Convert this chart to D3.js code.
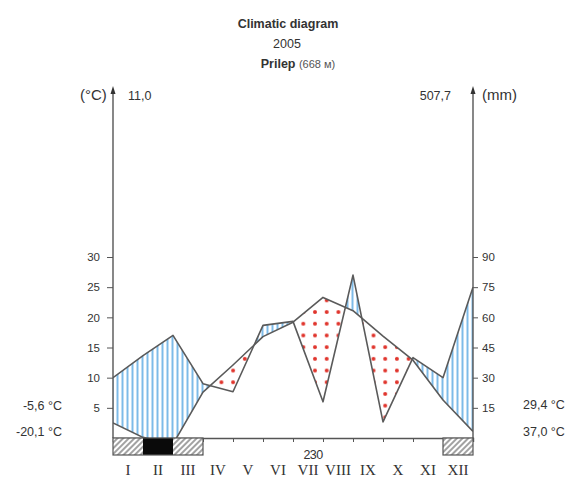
<!DOCTYPE html>
<html>
<head>
<meta charset="utf-8">
<script src="https://cdn.jsdelivr.net/npm/d3@7"></script>
<style>
  body { margin: 0; background: #fff; }
  text { font-family: "Liberation Sans", Arial, sans-serif; fill: #333; }
</style>
</head>
<body>
<div id="chart"></div>
<script>
(function(){
// readings at month boundaries (13 points, start of Jan .. end of Dec)
const tempValues = [2.5, 0.1, -1.0, 7.6, 12.1, 16.8, 19.2, 23.3, 21.1, 16.9, 12.9, 6.3, 1.1];
const precipValues = [30, 41, 51, 27, 23, 56, 58, 18, 81, 8, 40, 30, 75];
const months = ["I", "II", "III", "IV", "V", "VI", "VII", "VIII", "IX", "X", "XI", "XII"];
const tempTicks = [5, 10, 15, 20, 25, 30];
const precipTicks = [15, 30, 45, 60, 75, 90];
// frost bar: 0 none, 1 probable frost (hatched), 2 mean min below 0 (black)
const frostMonths = [1, 2, 1, 0, 0, 0, 0, 0, 0, 0, 0, 1];
const title = "Climatic diagram";
const year = "2005";
const station = "Prilep";
const altitude = "(668 м)";
const meanTemp = "11,0";
const totalPrecip = "507,7";
const leftNotes = ["-5,6 °C", "-20,1 °C"];
const rightNotes = ["29,4 °C", "37,0 °C"];
const frostFreeDays = "230";

const W = 573, H = 477;
const svg = d3.select("#chart").append("svg")
    .attr("width", W)
    .attr("height", H);

const x = d3.scaleLinear().domain([0, 12]).range([113, 473]);
const yT = d3.scaleLinear().domain([0, 30]).range([438, 257]);
const yP = d3.scaleLinear().domain([0, 90]).range([438, 257]);
const x0 = x(0), x1 = x(12), y0 = yT(0);

const pts = tempValues.map((t, i) => ({ i, t, p: precipValues[i] }));

// patterns
const defs = svg.append("defs");
const stripes = defs.append("pattern")
    .attr("id", "stripes")
    .attr("patternUnits", "userSpaceOnUse")
    .attr("width", 5).attr("height", 10);
stripes.append("line")
    .attr("x1", 2.5).attr("x2", 2.5).attr("y1", 0).attr("y2", 10)
    .attr("stroke", "#7dbbe8").attr("stroke-width", 2);

const dots = defs.append("pattern")
    .attr("id", "dots")
    .attr("patternUnits", "userSpaceOnUse")
    .attr("x", 5).attr("y", 2)
    .attr("width", 11.7).attr("height", 11.7);
dots.append("circle")
    .attr("cx", 5.8).attr("cy", 5.8).attr("r", 2)
    .attr("fill", "#e0332b");

const hatch = defs.append("pattern")
    .attr("id", "hatch")
    .attr("patternUnits", "userSpaceOnUse")
    .attr("width", 4).attr("height", 4)
    .attr("patternTransform", "rotate(45)");
hatch.append("rect").attr("width", 4).attr("height", 4).attr("fill", "#fff");
hatch.append("line")
    .attr("x1", 1).attr("x2", 1).attr("y1", 0).attr("y2", 4)
    .attr("stroke", "#555").attr("stroke-width", 1.1);

// clips above / below the temperature line
const aboveT = d3.area().x(d => x(d.i)).y0(d => yT(d.t)).y1(0);
const belowT = d3.area().x(d => x(d.i)).y0(d => yT(d.t)).y1(H);
defs.append("clipPath").attr("id", "clip-above")
    .append("path").attr("d", aboveT(pts));
defs.append("clipPath").attr("id", "clip-below")
    .append("path").attr("d", belowT(pts));
defs.append("clipPath").attr("id", "clip-plot")
    .append("rect").attr("x", x0).attr("y", 0).attr("width", x1 - x0).attr("height", y0);

const between = d3.area().x(d => x(d.i)).y0(d => yT(d.t)).y1(d => yP(d.p));

const plot = svg.append("g").attr("clip-path", "url(#clip-plot)");

// humid period
plot.append("g").attr("clip-path", "url(#clip-above)")
    .append("path")
    .attr("d", between(pts))
    .attr("fill", "url(#stripes)");

// dry period
plot.append("g").attr("clip-path", "url(#clip-below)")
    .append("path")
    .attr("d", between(pts))
    .attr("fill", "url(#dots)");

const lineT = d3.line().x(d => x(d.i)).y(d => yT(d.t));
const lineP = d3.line().x(d => x(d.i)).y(d => yP(d.p));

plot.append("path").attr("d", lineT(pts))
    .attr("fill", "none").attr("stroke", "#5a5a5a").attr("stroke-width", 1.6)
    .attr("stroke-linejoin", "round");
plot.append("path").attr("d", lineP(pts))
    .attr("fill", "none").attr("stroke", "#5a5a5a").attr("stroke-width", 1.6)
    .attr("stroke-linejoin", "round");

// axes
const axisColor = "#555";
const leftAxis = svg.append("g")
    .attr("transform", `translate(${x0},0)`)
    .call(d3.axisLeft(yT).tickValues(tempTicks).tickSize(6).tickPadding(7));
const rightAxis = svg.append("g")
    .attr("transform", `translate(${x1},0)`)
    .call(d3.axisRight(yP).tickValues(precipTicks).tickSize(5).tickPadding(4));
[leftAxis, rightAxis].forEach(a => {
    a.select(".domain").remove();
    a.selectAll(".tick line").attr("stroke", axisColor);
    a.selectAll(".tick text")
        .attr("fill", "#333")
        .style("font-family", "Liberation Sans, Arial, sans-serif")
        .style("font-size", "11.5px");
});

[x0, x1].forEach(ax => {
    svg.append("line")
        .attr("x1", ax).attr("x2", ax).attr("y1", y0).attr("y2", 92)
        .attr("stroke", axisColor).attr("stroke-width", 1.4);
    svg.append("path")
        .attr("d", `M${ax},86 L${ax - 2.5},94 L${ax + 2.5},94 Z`)
        .attr("fill", "#333");
});

// bottom axis with month ticks
const bottom = svg.append("g")
    .attr("transform", `translate(0,${y0})`)
    .call(d3.axisBottom(x).tickValues(d3.range(0, 13)).tickSize(4).tickFormat(""));
bottom.select(".domain").attr("stroke", axisColor).attr("stroke-width", 1.4);
bottom.selectAll(".tick line").attr("stroke", axisColor);

// frost bar
frostMonths.forEach((f, i) => {
    if (!f) return;
    svg.append("rect")
        .attr("x", x(i)).attr("y", y0)
        .attr("width", x(i + 1) - x(i)).attr("height", 17)
        .attr("fill", f === 2 ? "#0a0a0a" : "url(#hatch)");
});
// outline of frost blocks
const groups = [];
frostMonths.forEach((f, i) => {
    if (!f) return;
    const last = groups[groups.length - 1];
    if (last && last.end === i) last.end = i + 1;
    else groups.push({ start: i, end: i + 1 });
});
groups.forEach(g => {
    svg.append("rect")
        .attr("x", x(g.start)).attr("y", y0)
        .attr("width", x(g.end) - x(g.start)).attr("height", 17)
        .attr("fill", "none").attr("stroke", "#555").attr("stroke-width", 1.2);
});

// month labels
svg.append("g").selectAll("text")
    .data(months)
    .join("text")
    .attr("x", (d, i) => (x(i) + x(i + 1)) / 2)
    .attr("y", 475)
    .attr("text-anchor", "middle")
    .style("font-family", "Liberation Serif, Times New Roman, serif")
    .style("font-size", "15px")
    .attr("fill", "#111")
    .text(d => d);

svg.append("text")
    .attr("x", 313).attr("y", 459)
    .attr("text-anchor", "middle")
    .style("font-size", "12.5px")
    .attr("letter-spacing", "-0.6")
    .text(frostFreeDays);

// titles
svg.append("text")
    .attr("x", 288).attr("y", 28)
    .attr("text-anchor", "middle")
    .style("font-size", "12.5px").style("font-weight", "bold")
    .text(title);
svg.append("text")
    .attr("x", 287).attr("y", 48)
    .attr("text-anchor", "middle")
    .style("font-size", "12.5px")
    .text(year);
const st = svg.append("text")
    .attr("x", 298).attr("y", 68)
    .attr("text-anchor", "middle");
st.append("tspan").style("font-size", "12.5px").style("font-weight", "bold").text(station + " ");
st.append("tspan").style("font-size", "11px").attr("fill", "#555").text(altitude);

// axis headers
svg.append("text").attr("x", 80).attr("y", 100)
    .style("font-size", "15px").text("(°C)");
svg.append("text").attr("x", 128).attr("y", 100)
    .style("font-size", "12.5px").text(meanTemp);
svg.append("text").attr("x", 451).attr("y", 100)
    .attr("text-anchor", "end")
    .style("font-size", "12.5px").text(totalPrecip);
svg.append("text").attr("x", 482).attr("y", 100)
    .style("font-size", "15px").text("(mm)");

// extremes
leftNotes.forEach((t, i) => {
    svg.append("text").attr("x", 62).attr("y", 410 + i * 26)
        .attr("text-anchor", "end")
        .style("font-size", "12.5px").text(t);
});
rightNotes.forEach((t, i) => {
    svg.append("text").attr("x", 523).attr("y", 409 + i * 27)
        .style("font-size", "12.5px").text(t);
});
})();
</script>
</body>
</html>
